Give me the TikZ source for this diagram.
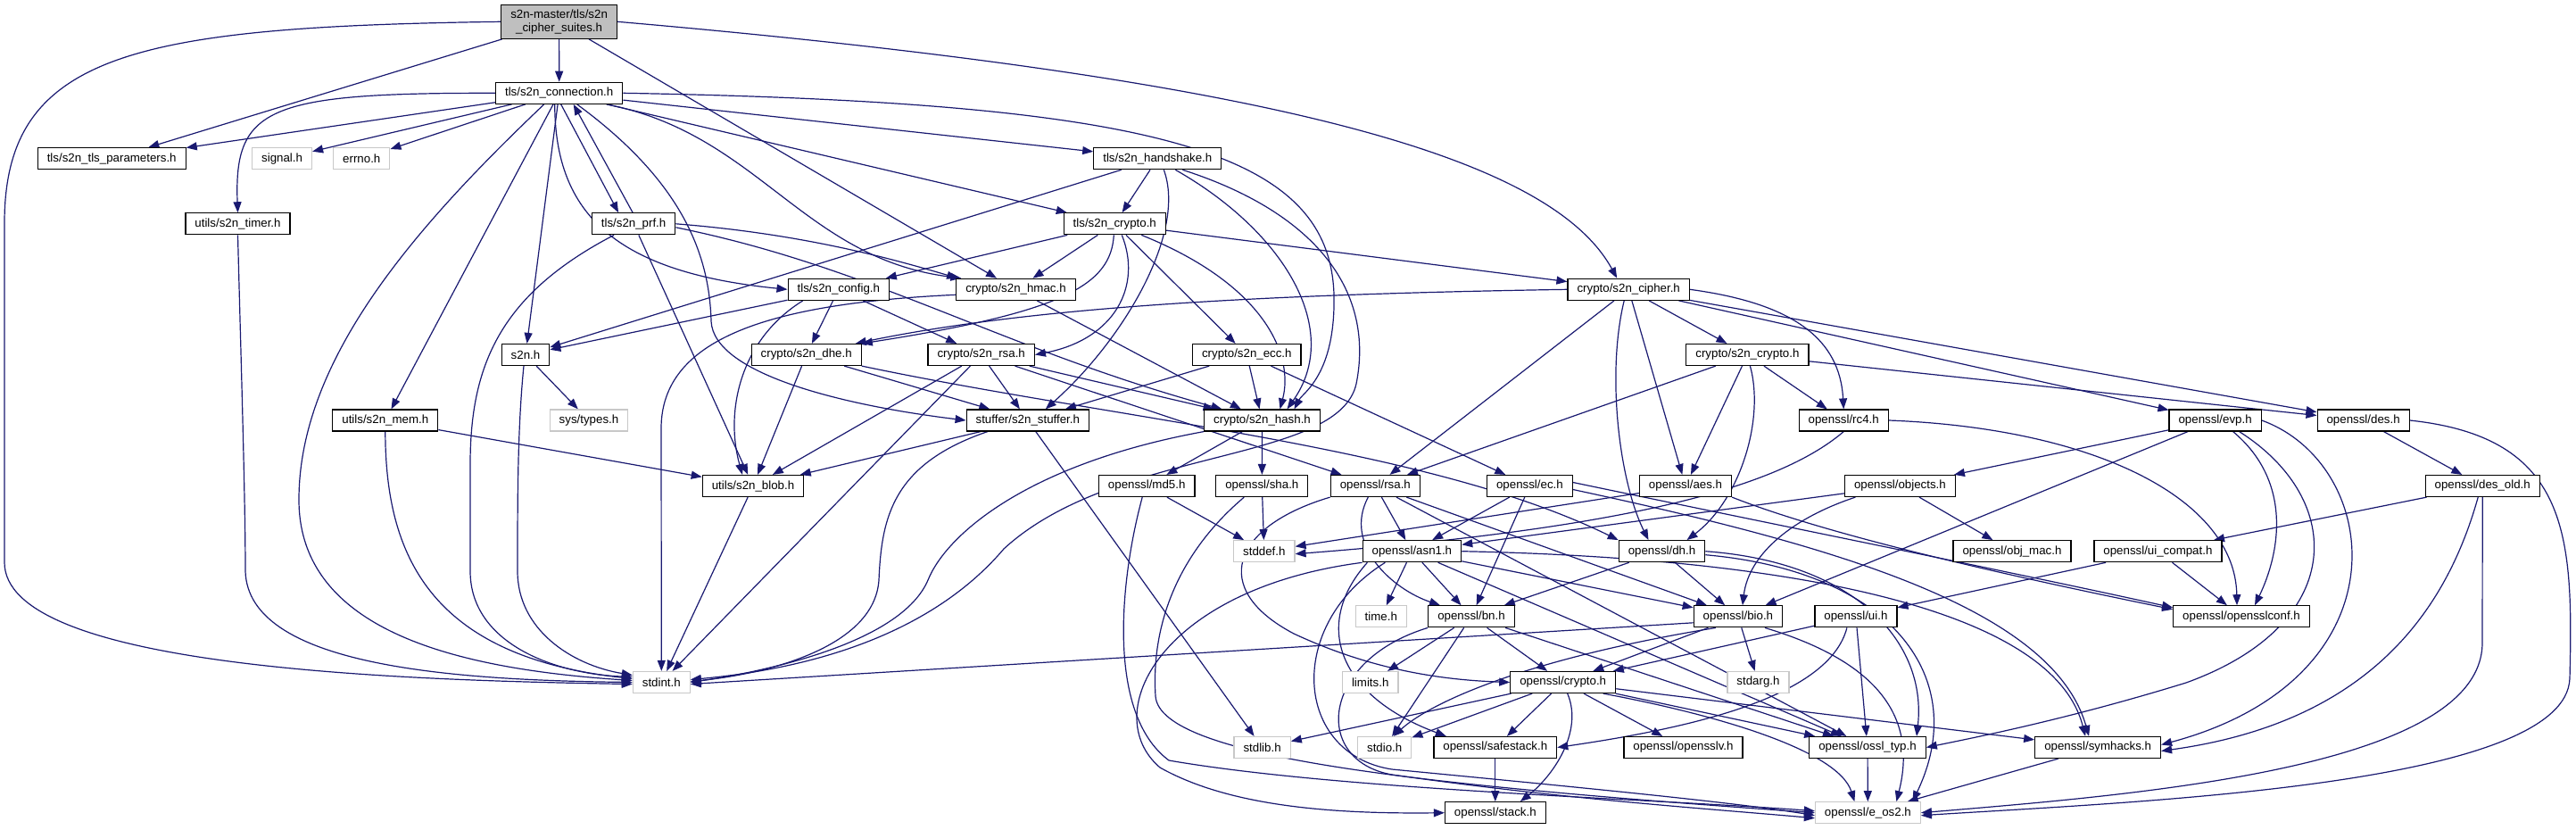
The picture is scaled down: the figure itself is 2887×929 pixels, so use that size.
\documentclass[tikz,border=0pt]{standalone}
\usepackage{fontspec}
\setmainfont{Liberation Sans}
\usepackage{tikz}
\usetikzlibrary{arrows.meta,backgrounds}
\definecolor{incblue}{HTML}{191970}
\definecolor{rootgray}{HTML}{BFBFBF}
\definecolor{extgray}{HTML}{C8C8C8}

\begin{document}
\begin{tikzpicture}[
      x=1pt, y=-1pt,
      font=\fontsize{13.3}{15}\selectfont,
      box/.style={rectangle, inner xsep=10.5pt, inner ysep=2pt,
                  minimum height=24pt, line width=1.2pt, fill=white},
      hdr/.style={box, draw=black},
      ext/.style={box, draw=extgray},
      cur/.style={box, draw=black, fill=rootgray, align=center,
                  minimum height=38pt},
      inc/.style={-{Triangle[length=12pt,width=9pt]}, draw=incblue,
                  line width=1.2pt},
    ]
    \useasboundingbox (0,0) rectangle (2887,929);

    % --- rows 0-3: the header itself and the tls layer --------------------
    \node[cur] (root)      at (626.6,24.3)   {s2n-master/tls/s2n\\\_cipher\_suites.h};
    \node[hdr] (conn)      at (626.7,104.3)  {tls/s2n\_connection.h};
    \node[hdr] (tlsparams) at (125.2,177.7)  {tls/s2n\_tls\_parameters.h};
    \node[ext] (signal)    at (316.1,177.7)  {signal.h};
    \node[ext] (errno)     at (405.3,177.7)  {errno.h};
    \node[hdr] (handshake) at (1297.3,177.7) {tls/s2n\_handshake.h};
    \node[hdr] (timer)     at (266.5,250.8)  {utils/s2n\_timer.h};
    \node[hdr] (prf)       at (710.1,250.8)  {tls/s2n\_prf.h};
    \node[hdr] (tlscrypto) at (1249.3,250.8) {tls/s2n\_crypto.h};

    % --- rows 4-7: s2n crypto / utils headers -----------------------------
    \node[hdr] (config)    at (939.8,324.3)  {tls/s2n\_config.h};
    \node[hdr] (hmac)      at (1138.5,324.3) {crypto/s2n\_hmac.h};
    \node[hdr] (cipher)    at (1825.2,324.3) {crypto/s2n\_cipher.h};
    \node[hdr] (s2nh)      at (589,397.5)    {s2n.h};
    \node[hdr] (dhe)       at (903.7,397.5)  {crypto/s2n\_dhe.h};
    \node[hdr] (rsa)       at (1099.7,397.5) {crypto/s2n\_rsa.h};
    \node[hdr] (ecc)       at (1397.3,397.5) {crypto/s2n\_ecc.h};
    \node[hdr] (s2ncrypto) at (1958.4,397.5) {crypto/s2n\_crypto.h};
    \node[hdr] (mem)       at (431.8,471)    {utils/s2n\_mem.h};
    \node[ext] (systypes)  at (660,471)      {sys/types.h};
    \node[hdr] (stuffer)   at (1151.8,471)   {stuffer/s2n\_stuffer.h};
    \node[hdr] (hash)      at (1414.5,471)   {crypto/s2n\_hash.h};
    \node[hdr] (rcfour)    at (2066.2,471)   {openssl/rc4.h};
    \node[hdr] (evp)       at (2482.6,471)   {openssl/evp.h};
    \node[hdr] (des)       at (2648.6,471)   {openssl/des.h};
    \node[hdr] (blob)      at (844,544.5)    {utils/s2n\_blob.h};
    \node[hdr] (md5)       at (1285.2,544.5) {openssl/md5.h};
    \node[hdr] (sha)       at (1414.3,544.5) {openssl/sha.h};
    \node[hdr] (osslrsa)   at (1541.3,544.5) {openssl/rsa.h};
    \node[hdr] (ec)        at (1714.4,544.5) {openssl/ec.h};
    \node[hdr] (aes)       at (1889,544.5)   {openssl/aes.h};
    \node[hdr] (objects)   at (2129.4,544.5) {openssl/objects.h};
    \node[hdr] (desold)    at (2782.2,544.5) {openssl/des\_old.h};

    % --- rows 8-12: openssl and system headers ----------------------------
    \node[ext] (stddef)    at (1416.8,617.7) {stddef.h};
    \node[hdr] (asn)       at (1582.4,617.7) {openssl/asn1.h};
    \node[hdr] (dh)        at (1862.5,617.7) {openssl/dh.h};
    \node[hdr] (objmac)    at (2255,617.7)   {openssl/obj\_mac.h};
    \node[hdr] (uicompat)  at (2418.4,617.7) {openssl/ui\_compat.h};
    \node[ext] (time)      at (1547.8,690.8) {time.h};
    \node[hdr] (bn)        at (1649,690.8)   {openssl/bn.h};
    \node[hdr] (bio)       at (1947.9,690.8) {openssl/bio.h};
    \node[hdr] (ui)        at (2079.9,690.8) {openssl/ui.h};
    \node[hdr] (sslconf)   at (2512,690.8)   {openssl/opensslconf.h};
    \node[ext] (stdint)    at (741.3,764.5)  {stdint.h};
    \node[ext] (limits)    at (1535.7,764.5) {limits.h};
    \node[hdr] (crypto)    at (1751.7,764.5) {openssl/crypto.h};
    \node[ext] (stdarg)    at (1970.5,764.5) {stdarg.h};
    \node[ext] (stdlib)    at (1414.6,837.5) {stdlib.h};
    \node[ext] (stdio)     at (1551.7,837.5) {stdio.h};
    \node[hdr] (safestack) at (1675.8,837.5) {openssl/safestack.h};
    \node[hdr] (sslv)      at (1886.5,837.5) {openssl/opensslv.h};
    \node[hdr] (ossltyp)   at (2093,837.5)   {openssl/ossl\_typ.h};
    \node[hdr] (symhacks)  at (2351.1,837.5) {openssl/symhacks.h};
    \node[hdr] (stack)     at (1675.8,910.7) {openssl/stack.h};
    \node[ext] (eos)       at (2093.4,910.7) {openssl/e\_os2.h};

    \begin{scope}[on background layer]
    % --- tls/s2n_cipher_suites.h -------------------------------------------
    \draw[inc] (root.west) .. controls (150,30) and (5,60) .. (5,250)
               -- (5,630) .. controls (5,745) and (420,762) .. ([yshift=-2]stdint.west);
    \draw[inc] (root) -- (tlsparams);
    \draw[inc] (root) -- (conn);
    \draw[inc] (root) -- (hmac);
    \draw[inc] (root.east) .. controls (1450,90) and (1740,180) .. ([xshift=-13]cipher.north);

    % --- tls/s2n_connection.h ----------------------------------------------
    \draw[inc] (conn) -- (tlsparams);
    \draw[inc] (conn) -- (signal);
    \draw[inc] (conn) -- (errno);
    \draw[inc] (conn.west) .. controls (300,104) and (262,120) .. (timer.north);
    \draw[inc] ([xshift=2]conn.south) -- ([xshift=-17]prf.north);
    \draw[inc] ([xshift=-17]conn.south) .. controls (470,250) and (335,400) .. (335,560)
               .. controls (335,710) and (520,750) .. ([yshift=2]stdint.west);
    \draw[inc] (conn) -- (mem);
    \draw[inc] (conn) -- (s2nh);
    \draw[inc] ([xshift=-5]conn.south) .. controls (622,240) and (690,305) .. (config.west);
    \draw[inc] ([xshift=53]conn.south) .. controls (850,150) and (900,290) .. ([xshift=6]hmac.north west);
    \draw[inc] (conn) -- (handshake);
    \draw[inc] (conn) -- (tlscrypto);
    \draw[inc] ([xshift=20]conn.south) .. controls (760,200) and (795,280) .. (797,360)
               .. controls (800,420) and (950,455) .. (stuffer.west);
    \draw[inc] (conn.east) .. controls (1300,115) and (1490,170) .. (1495,330)
               .. controls (1497,420) and (1460,440) .. ([xshift=36]hash.north);

    % --- tls/s2n_handshake.h, tls/s2n_crypto.h, tls/s2n_prf.h ---------------
    \draw[inc] (handshake) -- (s2nh);
    \draw[inc] (handshake) -- (tlscrypto);
    \draw[inc] ([xshift=7]handshake.south) .. controls (1330,260) and (1260,380) .. ([xshift=20]stuffer.north);
    \draw[inc] ([xshift=20]handshake.south) .. controls (1440,260) and (1505,370) .. ([xshift=28]hash.north);
    \draw[inc] ([xshift=28]handshake.south) .. controls (1480,240) and (1540,330) .. (1520,430)
               .. controls (1500,520) and (1250,500) .. (1125,615)
               .. controls (1040,715) and (900,750) .. ([yshift=3]stdint.east);
    \draw[inc] (tlscrypto) -- (config);
    \draw[inc] (tlscrypto) -- (hmac);
    \draw[inc] (tlscrypto) -- (cipher);
    \draw[inc] ([xshift=-1]tlscrypto.south) .. controls (1245,320) and (1190,350) .. (dhe.north east);
    \draw[inc] ([xshift=8]tlscrypto.south) .. controls (1280,320) and (1250,380) .. (rsa.east);
    \draw[inc] (tlscrypto) -- (ecc);
    \draw[inc] ([xshift=30]tlscrypto.south) .. controls (1420,320) and (1450,400) .. ([xshift=20]hash.north);
    \draw[inc] ([xshift=-1]prf.north) -- ([xshift=16]conn.south);
    \draw[inc] (prf.east) .. controls (900,262) and (1000,290) .. ([xshift=2]hmac.north west);
    \draw[inc] ([yshift=-4]prf.east) .. controls (980,300) and (1120,390) .. ([xshift=-45]hash.north);
    \draw[inc] (prf) -- (blob);
    \draw[inc] ([xshift=-22]prf.south) .. controls (560,330) and (527,410) .. (527,520)
               -- (527,640) .. controls (527,720) and (620,755) .. ([yshift=6]stdint.west);

    % --- utils, s2n.h, config ---------------------------------------------
    \draw[inc] (timer.south) .. controls (270,400) and (275,560) .. (275,640)
               .. controls (278,745) and (500,762) .. (stdint.west);
    \draw[inc] (s2nh) -- (systypes);
    \draw[inc] ([xshift=-2]s2nh.south) .. controls (580,480) and (580,560) .. (580,640)
               .. controls (580,705) and (640,745) .. ([yshift=8]stdint.west);
    \draw[inc] (mem) -- (blob);
    \draw[inc] (mem.south) .. controls (432,620) and (480,735) .. ([yshift=4]stdint.west);
    \draw[inc] (config) -- (s2nh);
    \draw[inc] (config) -- (dhe);
    \draw[inc] (config) -- (rsa);
    \draw[inc] ([xshift=-40]config.south) .. controls (830,380) and (812,460) .. ([xshift=-12]blob.north);
    \draw[inc] (hmac) -- (hash);
    \draw[inc] ([yshift=-6]hmac.west) .. controls (860,340) and (741,380) .. (741,480) -- (stdint.north);

    % --- crypto/s2n_dhe.h, s2n_rsa.h, s2n_ecc.h, s2n_hash.h -----------------
    \draw[inc] (dhe) -- (blob);
    \draw[inc] (dhe) -- (stuffer);
    \draw[inc] (dhe.south east) .. controls (1250,470) and (1600,500) .. (dh.north west);
    \draw[inc] (rsa) -- (stdint);
    \draw[inc] (rsa) -- (blob);
    \draw[inc] (rsa) -- (stuffer);
    \draw[inc] (rsa) -- (hash);
    \draw[inc] (rsa) -- (osslrsa);
    \draw[inc] (ecc) -- (stuffer);
    \draw[inc] (ecc) -- (hash);
    \draw[inc] (ecc) -- (ec);
    \draw[inc] (hash) -- (md5);
    \draw[inc] (hash) -- (sha);
    \draw[inc] (hash.south west) .. controls (1150,520) and (1060,600) .. (1040,650)
               .. controls (1010,720) and (860,752) .. (stdint.east);
    \draw[inc] (stuffer) -- (blob);
    \draw[inc] ([xshift=-45]stuffer.south) .. controls (1000,520) and (988,580) .. (985,650)
               .. controls (980,725) and (860,755) .. ([yshift=1]stdint.east);
    \draw[inc] (stuffer) -- (stdlib);
    \draw[inc] (blob) -- (stdint);

    % --- crypto/s2n_cipher.h, crypto/s2n_crypto.h --------------------------
    \draw[inc] (cipher.west) .. controls (1400,330) and (1150,345) .. ([xshift=-7]dhe.north east);
    \draw[inc] (cipher) -- (osslrsa);
    \draw[inc] (cipher) -- (s2ncrypto);
    \draw[inc] (cipher) -- (aes);
    \draw[inc] ([xshift=-5]cipher.south) .. controls (1800,420) and (1815,540) .. ([xshift=-15]dh.north);
    \draw[inc] (cipher.east) .. controls (2010,340) and (2062,380) .. (rcfour.north);
    \draw[inc] (cipher) -- (evp);
    \draw[inc] (cipher) -- (des);
    \draw[inc] (s2ncrypto) -- (osslrsa);
    \draw[inc] (s2ncrypto) -- (aes);
    \draw[inc] ([xshift=3]s2ncrypto.south) .. controls (1978,470) and (1950,560) .. ([xshift=28]dh.north);
    \draw[inc] (s2ncrypto) -- (rcfour);
    \draw[inc] (s2ncrypto) -- (des);

    % --- openssl, upper part ----------------------------------------------
    \draw[inc] (md5) -- (stddef);
    \draw[inc] ([xshift=-5]md5.south) .. controls (1255,650) and (1240,800) .. (1310,852)
               .. controls (1500,885) and (1850,895) .. ([yshift=2]eos.west);
    \draw[inc] (sha) -- (stddef);
    \draw[inc] ([xshift=-20]sha.south) .. controls (1320,620) and (1290,700) .. (1295,780)
               .. controls (1300,850) and (1600,880) .. (eos.west);
    \draw[inc] (osslrsa) -- (asn);
    \draw[inc] ([xshift=-8]osslrsa.south) .. controls (1505,610) and (1560,660) .. ([xshift=-35]bn.north);
    \draw[inc] (osslrsa) -- (bio);
    \draw[inc] (osslrsa.south west) .. controls (1380,590) and (1355,660) .. (1450,710)
               .. controls (1540,752) and (1620,762) .. (crypto.west);
    \draw[inc] (osslrsa) -- (ossltyp);
    \draw[inc] (ec) -- (asn);
    \draw[inc] (ec) -- (bn);
    \draw[inc] ([yshift=4]ec.east) .. controls (2000,590) and (2250,640) .. ([yshift=10]sslconf.west);
    \draw[inc] ([yshift=-4]ec.east) .. controls (2050,610) and (2300,680) .. ([xshift=-10]symhacks.north);
    \draw[inc] (aes.south east) .. controls (2050,600) and (2250,645) .. ([yshift=8]sslconf.west);
    \draw[inc] (aes) -- (stddef);
    \draw[inc] (rcfour.east) .. controls (2350,480) and (2505,560) .. ([xshift=-5]sslconf.north);
    \draw[inc] (rcfour.south) .. controls (2000,540) and (1850,590) .. ([yshift=-3]stddef.east);
    \draw[inc] (evp) -- (objects);
    \draw[inc] (evp) -- (bio);
    \draw[inc] ([xshift=20]evp.south) .. controls (2570,540) and (2555,620) .. ([xshift=15]sslconf.north);
    \draw[inc] ([xshift=27]evp.south) .. controls (2630,560) and (2630,700) .. (2450,765)
               .. controls (2320,805) and (2220,825) .. (ossltyp.east);
    \draw[inc] (evp.east) .. controls (2670,520) and (2700,760) .. ([yshift=3]symhacks.east);
    \draw[inc] (objects) -- (objmac);
    \draw[inc] (objects) -- (asn);
    \draw[inc] ([xshift=-50]objects.south) .. controls (2010,580) and (1960,620) .. ([xshift=5]bio.north);
    \draw[inc] (des) -- (desold);
    \draw[inc] (des.east) .. controls (2880,490) and (2884,600) .. (2880,760)
               .. controls (2876,880) and (2400,898) .. ([yshift=-3]eos.east);
    \draw[inc] (desold) -- (uicompat);
    \draw[inc] ([xshift=-5]desold.south) .. controls (2740,690) and (2650,810) .. ([yshift=-4]symhacks.east);
    \draw[inc] (desold.south) -- (2782,720) .. controls (2782,860) and (2400,890) .. (eos.east);

    % --- openssl, lower part ----------------------------------------------
    \draw[inc] (asn) -- (time);
    \draw[inc] (asn) -- (bn);
    \draw[inc] (asn) -- (bio);
    \draw[inc] (asn) -- (ossltyp);
    \draw[inc] ([xshift=-50]asn.south) .. controls (1470,700) and (1500,780) .. ([xshift=-55]safestack.north);
    \draw[inc] (asn.south west) .. controls (1300,660) and (1230,800) .. (1300,860)
               .. controls (1380,905) and (1500,912) .. (stack.west);
    \draw[inc] ([xshift=-30]asn.south) .. controls (1440,700) and (1450,845) .. (1560,862)
               .. controls (1800,885) and (1950,900) .. ([yshift=-3]eos.west);
    \draw[inc] (asn.east) .. controls (2000,625) and (2300,680) .. ([xshift=-14]symhacks.north);
    \draw[inc] (dh) -- (bn);
    \draw[inc] (dh) -- (bio);
    \draw[inc] (dh.east) .. controls (2080,630) and (2160,720) .. ([xshift=55]ossltyp.north);
    \draw[inc] ([yshift=-4]dh.east) .. controls (2120,640) and (2210,760) .. ([xshift=50]eos.north);
    \draw[inc] (uicompat) -- (sslconf);
    \draw[inc] (uicompat) -- (ui);
    \draw[inc] (bn) -- (limits);
    \draw[inc] (bn) -- (stdio);
    \draw[inc] (bn) -- (crypto);
    \draw[inc] (bn) -- (ossltyp);
    \draw[inc] (bn.south west) .. controls (1480,740) and (1470,852) .. (1560,868)
               .. controls (1750,895) and (1900,905) .. ([yshift=-6]eos.west);
    \draw[inc] ([yshift=-7]bio.west) -- ([yshift=-2]stdint.east);
    \draw[inc] ([xshift=-25]bio.south) .. controls (1700,740) and (1600,790) .. ([xshift=10]stdio.north);
    \draw[inc] (bio) -- (stdarg);
    \draw[inc] (bio) -- (crypto);
    \draw[inc] ([xshift=30]bio.south) .. controls (2100,740) and (2150,800) .. ([xshift=32]eos.north);
    \draw[inc] (ui) -- (crypto);
    \draw[inc] ([xshift=-10]ui.south) .. controls (2050,780) and (1900,815) .. (safestack.east);
    \draw[inc] (ui) -- (ossltyp);
    \draw[inc] (crypto) -- (stdlib);
    \draw[inc] (crypto) -- (stdio);
    \draw[inc] (crypto) -- (safestack);
    \draw[inc] ([xshift=5]crypto.south) .. controls (1775,820) and (1740,870) .. ([xshift=28]stack.north);
    \draw[inc] (crypto) -- (sslv);
    \draw[inc] (crypto) -- (ossltyp);
    \draw[inc] (crypto) -- (symhacks);
    \draw[inc] ([xshift=45]crypto.south) .. controls (1920,800) and (2060,840) .. ([xshift=-15]eos.north);
    \draw[inc] (safestack) -- (stack);
    \draw[inc] (ossltyp) -- (eos);
    \draw[inc] (symhacks) -- (eos);
    \end{scope}
  \end{tikzpicture}
\end{document}
